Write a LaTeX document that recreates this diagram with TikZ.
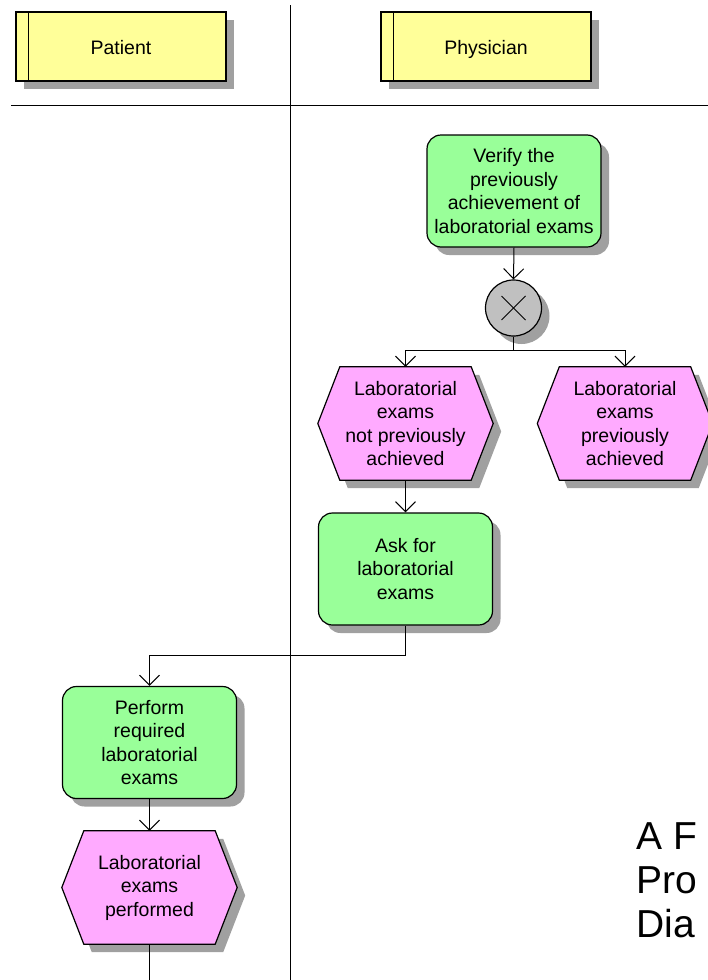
\documentclass[tikz,border=0pt]{standalone}
\usepackage{fontspec}
\setmainfont{Liberation Sans}
\usetikzlibrary{arrows.meta,calc,shadows,backgrounds}

\definecolor{laneyellow}{HTML}{FFFF99}
\definecolor{funcgreen}{HTML}{99FF99}
\definecolor{evtpink}{HTML}{FFAAFF}
\definecolor{gategray}{HTML}{C0C0C0}
\definecolor{shadowgray}{HTML}{A0A0A0}

\newcommand\lblfont{\fontsize{19.5}{23.5}\selectfont}
% outline of an EPC event (flat hexagon) around a named node
\newcommand\hexoutline[1]{(#1.west) -- ($(#1.north west)+(22,0)$) -- ($(#1.north east)+(-22,0)$) -- (#1.east) -- ($(#1.south east)+(-22,0)$) -- ($(#1.south west)+(22,0)$) -- cycle}

\tikzset{
  boxshadow/.style={drop shadow={shadow xshift=8pt, shadow yshift=-8pt, opacity=1, fill=shadowgray}},
  orgunit/.style={rectangle, draw, line width=1.2pt, fill=laneyellow, boxshadow,
    minimum width=210pt, minimum height=69pt, inner sep=0pt, text height=18pt, text depth=2pt, font=\lblfont},
  func/.style={rectangle, rounded corners=14pt, draw, line width=1.2pt, fill=funcgreen, boxshadow,
    minimum width=174pt, minimum height=112pt, align=center, inner sep=0pt, font=\lblfont},
  evt/.style={rectangle, minimum width=175pt, minimum height=113pt, align=center, inner sep=0pt, font=\lblfont},
  xorgate/.style={circle, draw, line width=1.2pt, fill=gategray, boxshadow, minimum size=56pt, inner sep=0pt},
  flow/.style={line width=1pt},
  arr/.style={flow, -{Straight Barb[length=10pt, width=20pt, line width=1pt]}},
}

\begin{document}
\begin{tikzpicture}[x=1pt, y=-1pt]
\useasboundingbox (0,0) rectangle (707,980);

% swimlane dividers
\draw[flow] (290,5) -- (290,985);
\draw[flow] (11,105) -- (712,105);

% lane headers
\node[orgunit] (pat) at (121,46.5) {Patient};
\draw[line width=1.2pt] ($(pat.north west)+(13,0)$) -- ($(pat.south west)+(13,0)$);
\node[orgunit] (phy) at (486,46.5) {Physician};
\draw[line width=1.2pt] ($(phy.north west)+(13,0)$) -- ($(phy.south west)+(13,0)$);

% functions, events and connector
\node[func] (verify) at (514,191) {Verify the\\previously\\achievement of\\laboratorial exams};
\node[xorgate] (gate) at (513.5,308) {};
\draw[line width=1pt] ($(gate.center)+(-12,-12)$) -- ($(gate.center)+(12,12)$);
\draw[line width=1pt] ($(gate.center)+(-12,12)$) -- ($(gate.center)+(12,-12)$);

\node[evt] (e1) at (405.5,423.5) {Laboratorial\\exams\\not previously\\achieved};
\node[evt] (e2) at (625,423.5) {Laboratorial\\exams\\previously\\achieved};
\node[func] (ask) at (405.5,569) {Ask for\\laboratorial\\exams};
\node[func] (perf) at (149.5,742.5) {Perform\\required\\laboratorial\\exams};
\node[evt] (e3) at (149.5,887.5) {Laboratorial\\exams\\performed};

\begin{scope}[on background layer]
  \foreach \h in {e1,e2,e3}{
    \fill[shadowgray, transform canvas={shift={(8pt,-8pt)}}] \hexoutline{\h};
    \filldraw[fill=evtpink, draw=black, line width=1.2pt] \hexoutline{\h};
  }
\end{scope}

% control flow
\coordinate (split) at (513.5,350);
\coordinate (bend) at (405.5,655);
\coordinate (out) at (149.5,985);
\draw[arr] (verify.south) -- (gate.north);
\draw[flow] (gate.south) -- (split);
\draw[arr] (split) -| (e1.north);
\draw[arr] (split) -| (e2.north);
\draw[arr] (e1.south) -- (ask.north);
\draw[flow] (ask.south) -- (bend);
\draw[arr] (bend) -| (perf.north);
\draw[arr] (perf.south) -- (e3.north);
\draw[flow] (e3.south) -- (out);

% caption
\node[anchor=north west, inner sep=0pt, align=left, font=\fontsize{39}{44}\selectfont] (title) at (636,822) {A F\\Pro\\Dia};
\end{tikzpicture}
\end{document}
